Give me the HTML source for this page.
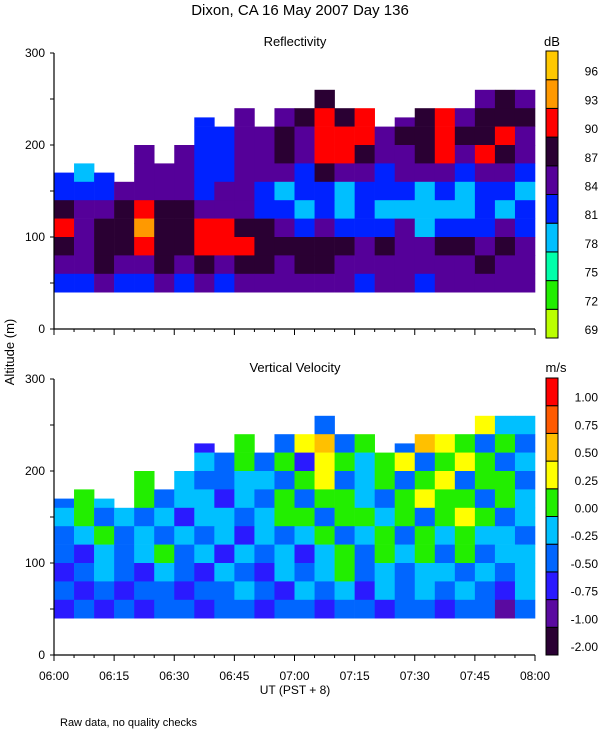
<!DOCTYPE html>
<html><head><meta charset="utf-8"><style>
body{margin:0;background:#fff;}
svg{display:block;font-family:"Liberation Sans",sans-serif;}
</style></head><body>
<svg id="chart" width="600" height="750" xmlns="http://www.w3.org/2000/svg">
<text x="300" y="15" text-anchor="middle" font-size="15">Dixon, CA 16 May 2007  Day 136</text>
<text x="295" y="46" text-anchor="middle" font-size="13">Reflectivity</text>
<text x="295" y="372" text-anchor="middle" font-size="13">Vertical Velocity</text>
<text transform="translate(14,352) rotate(-90)" text-anchor="middle" font-size="13">Altitude (m)</text>
<text x="295" y="694" text-anchor="middle" font-size="12">UT  (PST + 8)</text>
<text x="60" y="726" font-size="11">Raw data, no quality checks</text>
<text x="552" y="46" text-anchor="middle" font-size="13">dB</text>
<text x="556" y="372" text-anchor="middle" font-size="13">m/s</text>
<g id="plots"></g>
</svg>
<script>
const NS="http://www.w3.org/2000/svg";
// time bins: 5-minute bins starting 06:00
const timeBinsMin=[0,5,10,15,20,25,30,35,40,45,50,55,60,65,70,75,80,85,90,95,100,105,110,115];
const altBins=[280,260,240,220,200,180,160,140,120,100,80,60,40];
const reflTops=[170,180,170,160,200,180,200,230,220,240,220,240,240,260,240,240,220,230,240,240,240,260,260,260];
const velTops=[170,180,170,160,200,180,200,230,220,240,220,240,240,260,240,240,220,230,240,240,240,260,260,260];
const reflValues=[
[84,84,84,84,84,84,84,84,84,84,84,81,84,84,84,84,84,84,84,84,81,84,87,84],
[84,84,84,84,84,84,87,81,84,84,84,81,84,84,84,84,84,84,84,84,84,84,87,84],
[84,84,84,84,81,81,87,81,84,84,84,84,84,87,84,84,84,84,84,84,84,84,87,84],
[84,84,84,84,81,81,87,81,81,84,84,84,87,90,87,90,84,84,87,90,84,87,87,87],
[84,84,84,84,81,81,87,81,81,84,84,87,84,90,90,90,84,87,87,90,87,87,90,84],
[81,81,81,84,84,81,84,81,81,84,84,87,84,90,90,87,84,84,87,90,84,90,87,84],
[81,78,81,84,84,84,84,81,81,84,84,84,81,87,84,84,81,84,84,84,81,84,84,81],
[81,81,81,84,84,84,84,81,84,84,81,78,81,81,78,81,81,81,78,81,78,81,81,78],
[87,84,84,87,90,87,87,84,84,84,81,81,78,81,78,81,78,78,78,78,78,81,78,81],
[90,84,87,87,93,87,87,90,90,87,87,84,81,84,81,81,81,84,78,81,81,81,84,81],
[87,84,87,87,90,87,87,90,90,90,87,87,87,87,87,84,87,84,84,87,87,84,87,84],
[84,84,87,84,84,87,84,87,84,87,87,84,87,87,84,84,84,84,84,84,84,87,84,84],
[81,81,84,81,81,84,81,84,81,84,84,84,84,84,84,81,84,84,81,84,84,84,84,84]];
const velValues=[
[-0.25,-0.25,-0.25,-0.25,-0.25,-0.25,-0.5,-0.25,0,0,0.75,0,-0.5,0,0.25,0,-0.25,0,0.25,0,-0.5,1,-0.5,-0.5],
[-0.25,-0.25,-0.25,-0.25,-0.25,-0.25,-0.5,-0.25,0,0,0.75,0,0,0.25,0,-0.5,0,0,0.25,0,0,0,-0.5,-0.25],
[-0.25,-0.25,-0.25,-0.25,-0.25,0,-0.5,-0.25,0,0,0.5,0,0.25,-0.5,0,0.25,-0.5,0.25,0.5,0.25,-0.5,0.25,-0.25,-0.25],
[-0.25,-0.5,-0.25,-0.25,0,0,-0.25,-0.75,-0.25,0,0,-0.5,0.25,0.5,-0.5,0,0,-0.5,0.5,0.25,0,-0.5,0,-0.5],
[-0.25,-0.25,-0.5,-0.25,0,-0.25,-0.5,-0.25,-0.5,0,-0.5,0,-0.75,0.25,0,-0.25,0,0.25,-0.5,0,0.25,0,-0.5,-0.25],
[0,-0.5,-0.25,-0.5,0,-0.25,-0.25,-0.5,-0.5,-0.25,-0.25,-0.5,0,0.25,-0.5,-0.25,0,-0.5,0,0.25,-0.5,0,0,-0.5],
[-0.5,0,-0.25,-0.75,0,-0.5,-0.25,-0.25,-0.75,-0.25,-0.5,0,-0.5,0,0,-0.25,-0.5,0,0.25,0,0,-0.5,0,-0.25],
[-0.25,0,-0.5,-0.25,-0.5,-0.25,-0.75,-0.25,-0.25,-0.5,-0.25,0,0,-0.5,0,0,-0.25,0,-0.5,0,0.25,0,-0.5,-0.25],
[-0.5,-0.25,0,-0.5,-0.25,-0.5,-0.25,-0.5,-0.25,-0.75,-0.25,-0.5,-0.25,0,-0.5,-0.25,0,-0.5,0,-0.25,0,-0.25,-0.25,-0.5],
[-0.5,-0.75,-0.25,-0.5,-0.25,0,-0.5,-0.25,-0.75,-0.25,-0.5,-0.25,-0.75,-0.25,0,-0.5,0,-0.25,0,-0.5,0,-0.5,-0.25,-0.25],
[-0.75,-0.5,-0.25,-0.5,-0.75,-0.25,-0.5,-0.75,-0.25,-0.5,-0.75,-0.25,-0.5,-0.25,0,-0.5,-0.25,-0.5,-0.25,-0.25,-0.5,-0.25,-0.5,-0.25],
[-0.5,-0.75,-0.5,-0.75,-0.5,-0.5,-0.75,-0.5,-0.5,-0.25,-0.5,-0.75,-0.25,-0.5,-0.25,-0.75,-0.25,-0.5,-0.25,-0.5,-0.25,-0.5,-0.75,-0.25],
[-0.75,-0.5,-0.75,-0.5,-0.75,-0.5,-0.5,-0.75,-0.5,-0.5,-0.75,-0.5,-0.5,-0.75,-0.5,-0.5,-0.75,-0.5,-0.5,-0.75,-0.5,-0.5,-1,-0.5]];
const reflLevels=[69,72,75,78,81,84,87,90,93,96];
const reflColors=["#bbff00","#22ee00","#00ffaa","#00bfff","#0022ff","#550099","#2a0033","#ff0000","#ff9900","#ffc800"];
const velLevels=[-2,-1,-0.75,-0.5,-0.25,0,0.25,0.5,0.75,1];
const velLabels=["-2.00","-1.00","-0.75","-0.50","-0.25","0.00","0.25","0.50","0.75","1.00"];
const velColors=["#2a0033","#5a0aa0","#2a1aff","#0066ff","#00c0ff","#22ee00","#ffff00","#ffc000","#ff5a00","#ff0000"];
const yTicks=[0,50,100,150,200,250,300];
const yLabels=[0,100,200,300];
const xLabels=["06:00","06:15","06:30","06:45","07:00","07:15","07:30","07:45","08:00"];
const X0=54,X1=535;
const xScale=m=>X0+(X1-X0)*m/120;
const g=document.getElementById('plots');
function mk(tag,attrs){const e=document.createElementNS(NS,tag);for(const k in attrs)e.setAttribute(k,attrs[k]);g.appendChild(e);return e;}
function colorIdx(levels,v){let i=0;for(let k=0;k<levels.length;k++)if(v>=levels[k]-1e-9)i=k;return i;}
function panel(name,yBot,vals,tops,levels,colors,labels,cbTop,cbBot,showX){
  const yScale=a=>yBot-276*a/300;
  for(let r=0;r<altBins.length;r++){
    for(let c=0;c<timeBinsMin.length;c++){
      const a=altBins[r];
      if(a>=tops[c])continue;
      const top=Math.min(a+20,tops[c]);
      const e=mk('rect',{x:xScale(timeBinsMin[c]),y:yScale(top),width:xScale(timeBinsMin[c]+5)-xScale(timeBinsMin[c])+0.3,height:yScale(a)-yScale(top)+0.3,fill:colors[colorIdx(levels,vals[r][c])]});
      
      
    }
  }
  const ax=mk('path',{d:`M${X0},${yScale(300)}V${yBot}H${X1}`,stroke:'#000',fill:'none','stroke-width':1.2});
  
  
  yTicks.forEach(t=>{const e=mk('line',{x1:X0-4,x2:X0,y1:yScale(t),y2:yScale(t),stroke:'#000'});
    
    });
  yLabels.forEach(t=>{const e=mk('text',{x:X0-9,y:yScale(t)+4,'text-anchor':'end','font-size':12});e.textContent=t;
    
    });
  for(let m=0;m<=120;m+=5){const major=m%15===0;const e=mk('line',{x1:xScale(m),x2:xScale(m),y1:yBot,y2:yBot+(major?6:3),stroke:'#000'});
    
    }
  if(showX)xLabels.forEach((l,i)=>{const e=mk('text',{x:xScale(i*15),y:yBot+25,'text-anchor':'middle','font-size':12});e.textContent=l;
    
    });
  const h=(cbBot-cbTop)/levels.length;
  levels.forEach((l,i)=>{const y=cbBot-(i+1)*h;
    const r=mk('rect',{x:546,y:y,width:12,height:h,fill:colors[i],stroke:'#000','stroke-width':1});
    
    
    const t=mk('text',{x:598,y:y+h-4,'text-anchor':'end','font-size':12});t.textContent=labels[i];
    
    });
}
panel('reflectivity',329,reflValues,reflTops,reflLevels,reflColors,reflLevels.map(String),51,338,false);
panel('velocity',655,velValues,velTops,velLevels,velColors,velLabels,378,655,true);
</script>
</body></html>
